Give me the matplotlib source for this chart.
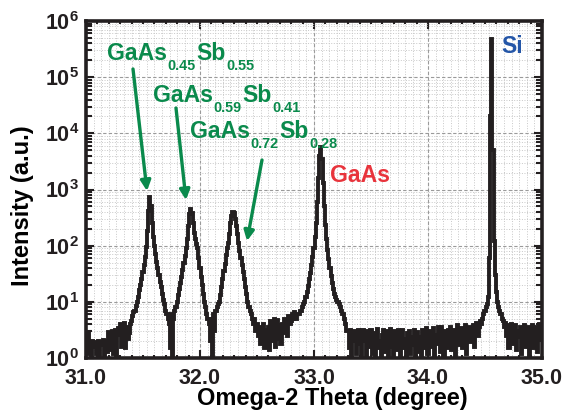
import numpy as np
import matplotlib
matplotlib.use("Agg")
import matplotlib.pyplot as plt
from matplotlib.patches import FancyArrowPatch
from matplotlib.ticker import LogLocator, FuncFormatter, MultipleLocator

plt.rcParams["font.family"] = ["Liberation Sans", "DejaVu Sans"]
plt.rcParams["font.weight"] = "bold"
plt.rcParams["mathtext.fontset"] = "custom"
plt.rcParams["mathtext.rm"] = "Liberation Sans"
plt.rcParams["mathtext.bf"] = "Liberation Sans:bold"

# omega-2theta scan, 0.01 deg steps from 31.00 to 35.00
scan_start = 31.0
scan_step = 0.01
intensity = [
    2.5, 1.2, 2.8, 1.5, 1.8, 1.0, 2.0, 1.6, 1.9, 1.2,      # 31.00
    1.8, 2.0, 1.1, 1.9, 1.7, 2.1, 1.0, 1.8, 2.0, 1.3,      # 31.10
    2.9, 1.4, 2.2, 3.0, 1.2, 2.4, 3.2, 1.1, 2.6, 3.4,      # 31.20
    4.0, 1.6, 3.1, 2.0, 4.2, 1.5, 3.5, 2.2, 2.8, 4.0,      # 31.30
    4.5, 5.5, 6.5, 7.0, 8.5, 10, 12, 16, 20, 26,           # 31.40
    34, 45, 62, 95, 180, 420, 730, 500, 250, 140,          # 31.50
    100, 70, 52, 40, 30, 23, 18, 14, 11, 9,                # 31.60
    7, 6, 5, 4, 1.5, 6, 1.0, 5, 7, 8,                      # 31.70
    10, 13, 17, 22, 28, 37, 50, 65, 90, 130,               # 31.80
    220, 360, 450, 380, 250, 170, 130, 105, 90, 60,        # 31.90
    40, 28, 20, 14, 10, 8, 6, 5, 4, 2,                     # 32.00
    5, 1.0, 6, 3, 7, 8, 9, 10, 13, 18,                     # 32.10
    25, 35, 48, 68, 90, 110, 160, 250, 340, 400,           # 32.20
    380, 300, 220, 160, 110, 80, 60, 45, 34, 25,           # 32.30
    18, 14, 10, 8, 7, 6, 5, 4, 5, 3,                       # 32.40
    4.0, 2.5, 3.5, 1.8, 3.0, 2.2, 4.0, 1.5, 3.2, 2.0,      # 32.50
    3.5, 1.4, 4.5, 2.0, 3.0, 5.0, 1.6, 2.5, 4.8, 2.2,      # 32.60
    3.8, 1.8, 4.0, 2.8, 5.0, 3.0, 4.2, 2.5, 5.5, 4.0,      # 32.70
    4.5, 6.0, 5.0, 6.5, 5.0, 5.0, 6.0, 6.0, 7.0, 7.0,      # 32.80
    8, 9, 10, 12, 15, 19, 25, 33, 45, 62,                  # 32.90
    90, 140, 250, 600, 1600, 4000, 5600, 3500, 1300, 500,  # 33.00
    230, 130, 85, 58, 40, 29, 22, 17, 14, 12,              # 33.10
    11, 10, 9, 8, 7, 6, 6, 5, 4, 3,                        # 33.20
    3.0, 1.5, 3.2, 1.0, 2.8, 2.0, 3.0, 1.2, 2.5, 3.1,      # 33.30
    1.8, 2.6, 1.1, 3.2, 2.0, 2.4, 1.0, 3.0, 1.6, 2.2,      # 33.40
    3.2, 1.2, 2.0, 2.8, 1.0, 2.2, 3.3, 1.5, 2.0, 1.1,      # 33.50
    2.6, 3.2, 1.3, 2.0, 3.0, 1.0, 2.4, 3.3, 1.6, 2.1,      # 33.60
    1.0, 3.0, 2.2, 1.4, 3.2, 2.0, 1.1, 2.6, 3.1, 1.5,      # 33.70
    2.2, 1.0, 2.8, 1.9, 3.0, 1.2, 2.4, 1.7, 3.2, 1.0,      # 33.80
    2.0, 2.9, 1.3, 2.4, 1.0, 3.1, 2.2, 1.5, 2.7, 3.4,      # 33.90
    1.2, 2.5, 3.0, 1.6, 2.2, 3.4, 1.0, 2.6, 1.8, 3.5,      # 34.00
    2.0, 1.3, 3.6, 2.4, 1.1, 3.0, 2.6, 1.5, 3.2, 2.0,      # 34.10
    3.6, 1.4, 2.8, 3.2, 1.0, 2.5, 3.8, 1.7, 2.9, 3.4,      # 34.20
    1.5, 3.0, 2.2, 3.8, 1.2, 2.8, 3.5, 1.9, 3.3, 2.6,      # 34.30
    3.9, 1.6, 3.2, 4.2, 2.5, 3.6, 4.5, 4.0, 5.0, 6.0,      # 34.40
    7, 8, 9, 12, 60, 20000, 480000, 5000, 120, 30,         # 34.50
    15, 10, 8, 7, 6, 5, 4.5, 3.5, 4.2, 2.5,                # 34.60
    3.8, 1.5, 3.2, 4.0, 1.8, 3.4, 2.2, 3.9, 1.4, 3.0,      # 34.70
    2.4, 3.6, 1.2, 3.1, 2.0, 3.8, 1.6, 2.8, 3.5, 1.1,      # 34.80
    3.2, 2.4, 3.9, 1.5, 2.9, 3.6, 1.3, 3.3, 4.1, 2.2,      # 34.90
    3.0,                                                   # 35.00
]
two_theta = scan_start + scan_step * np.arange(len(intensity))

# composition labels: pieces alternate main text / subscript
alloy_labels = [
    ["GaAs", "0.45", "Sb", "0.55"],
    ["GaAs", "0.59", "Sb", "0.41"],
    ["GaAs", "0.72", "Sb", "0.28"],
]
label_starts = [(107, 60), (153, 102), (190, 138)]  # px, left / baseline
alloy_arrows = [((133, 69), (147, 191)), ((176, 108), (186, 200)), ((262, 160), (247, 241))]

W, H = 565, 416
green = "#0a8a4c"
ink = "#231f20"

fig = plt.figure(figsize=(W / 100, H / 100), dpi=100)
ax = fig.add_axes([86 / W, 1 - 358 / H, 456 / W, 337 / H])

ax.plot(two_theta, intensity, color=ink, lw=2.8, drawstyle="steps-mid",
        solid_joinstyle="miter", zorder=3)

ax.set_yscale("log")
ax.set_xlim(31.0, 35.0)
ax.set_ylim(1, 1e6)

ax.xaxis.set_major_locator(MultipleLocator(1.0))
ax.xaxis.set_minor_locator(MultipleLocator(0.1))
ax.xaxis.set_major_formatter(FuncFormatter(lambda v, p: f"{v:.1f}"))
ax.yaxis.set_major_locator(LogLocator(base=10, numticks=10))
ax.yaxis.set_minor_locator(LogLocator(base=10, subs=np.arange(2, 10), numticks=20))
ax.yaxis.set_major_formatter(FuncFormatter(lambda v, p: r"$\mathbf{10^{%d}}$" % round(np.log10(v))))

ax.tick_params(which="both", direction="in", top=True, right=True, width=1.5,
               labelsize=15.5, colors=ink)
ax.tick_params(which="major", length=6)
ax.tick_params(axis="x", which="major", pad=7)
ax.tick_params(axis="y", which="major", pad=5)
ax.tick_params(axis="y", which="minor", length=4)
ax.tick_params(axis="x", which="minor", length=2.5)

# grid
ax.grid(which="major", axis="both", ls=(0, (3, 2)), color="#9a9a9a", lw=0.8, zorder=1)
ax.grid(which="minor", axis="y", ls=":", color="#c8c8c8", lw=0.7, zorder=1)
for gx in np.arange(31.0, 35.0, 1 / 15):
    ax.axvline(gx, ls=":", color="#c8c8c8", lw=0.7, zorder=1)

for s in ax.spines.values():
    s.set_linewidth(2.6)
    s.set_color(ink)

ax.set_xlabel("Omega-2 Theta (degree)", fontsize=17, fontweight="bold")
ax.xaxis.set_label_coords((332 - 86) / 456, (358 - 387) / 337)
ax.set_ylabel("Intensity (a.u.)", fontsize=17, fontweight="bold")
ax.yaxis.set_label_coords((34 - 86) / 456, (358 - 206) / 337)


def fxy(px, py):
    return px / W, 1 - py / H


renderer = fig.canvas.get_renderer()


def fitted_size(txt, target_px, base=16.0):
    t = fig.text(0.5, 0.5, txt, fontsize=base, fontweight="bold")
    w = t.get_window_extent(renderer).width
    t.remove()
    return base * target_px / w


big = fitted_size("GaAs", 60)
small = fitted_size("0.45", 28)

for pieces, (px, base) in zip(alloy_labels, label_starts):
    x = px
    for i, txt in enumerate(pieces):
        sub = i % 2 == 1
        t = fig.text(*fxy(x, base + (10 if sub else 0)), txt, color=green,
                     fontsize=small if sub else big, fontweight="bold",
                     ha="left", va="baseline")
        x = t.get_window_extent(renderer).x1 + 0.5

for (tx, ty), (hx, hy) in alloy_arrows:
    fig.add_artist(FancyArrowPatch(
        fxy(tx, ty), fxy(hx, hy), transform=fig.transFigure,
        arrowstyle="-|>,head_length=6,head_width=3", color=green, lw=2.4,
        shrinkA=0, shrinkB=0))

fig.text(*fxy(330, 182), "GaAs", color="#e8343c", fontsize=big, fontweight="bold",
         ha="left", va="baseline")
fig.text(*fxy(501, 53), "Si", color="#2456a8", fontsize=big, fontweight="bold",
         ha="left", va="baseline")

fig.savefig("out.png", dpi=100)
